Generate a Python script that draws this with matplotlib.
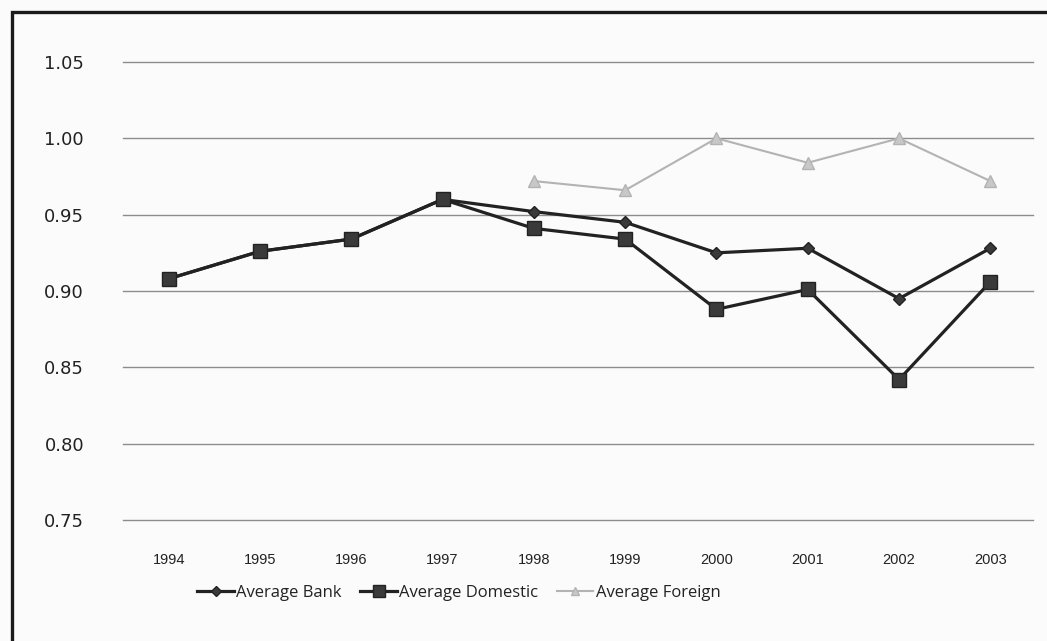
import matplotlib
matplotlib.use("Agg")
import matplotlib.pyplot as plt
from matplotlib.patches import Rectangle
from matplotlib.lines import Line2D
import numpy as np

years = ["1994", "1995", "1996", "1997", "1998", "1999", "2000", "2001", "2002", "2003"]
average_bank = [0.908, 0.926, 0.934, 0.960, 0.952, 0.945, 0.925, 0.928, 0.895, 0.928]
average_domestic = [0.908, 0.926, 0.934, 0.960, 0.941, 0.934, 0.888, 0.901, 0.842, 0.906]
foreign_years = ["1998", "1999", "2000", "2001", "2002", "2003"]
average_foreign = [0.972, 0.966, 1.000, 0.984, 1.000, 0.972]
y_ticks = [0.75, 0.80, 0.85, 0.90, 0.95, 1.00, 1.05]

W, H = 1047, 641
fig = plt.figure(figsize=(W / 100, H / 100), dpi=100)
fig.patch.set_facecolor("#fbfbfb")

# outer chart frame
fig.add_artist(Rectangle((12 / W, -0.05), 1.1, 1 - 12 / H + 0.05,
                         transform=fig.transFigure, fill=False,
                         edgecolor="#1a1a1a", linewidth=2.4))

ax = fig.add_axes([123 / W, (H - 520) / H, 913 / W, 458 / H])
ax.set_facecolor("none")

x = np.arange(len(years))
xf = np.array([years.index(y) for y in foreign_years])

dark = "#222222"
light = "#b3b3b3"
ax.plot(x, average_bank, color=dark, lw=2.3, marker="D", ms=6,
        mfc="#3a3a3a", mec=dark, zorder=4, label="Average Bank")
ax.plot(x, average_domestic, color=dark, lw=2.3, marker="s", ms=10,
        mfc="#3a3a3a", mec=dark, zorder=5, label="Average Domestic")
ax.plot(xf, average_foreign, color=light, lw=1.5, marker="^", ms=8,
        mfc="#c8c8c8", mec=light, zorder=3, label="Average Foreign")

ax.set_xlim(-0.5, len(years) - 0.5)
ax.set_ylim(0.75, 1.05)
ax.set_yticks(y_ticks)
ax.set_yticklabels([f"{v:.2f}" for v in y_ticks], fontsize=13,
                   family="DejaVu Sans", color="#222222")
ax.set_xticks(x)
ax.set_xticklabels(years, fontsize=10.5, family="Liberation Sans",
                   color="#222222")
ax.tick_params(axis="y", length=0, pad=28)
ax.tick_params(axis="x", length=0, pad=24)
for s in ax.spines.values():
    s.set_visible(False)
for v in y_ticks:
    ax.axhline(v, xmin=0, xmax=(1033 - 123) / 913, color="#8c8c8c",
               lw=1.0, zorder=1, clip_on=False)

handles = [
    Line2D([], [], color=dark, lw=2.3, marker="D", ms=5, mfc="#3a3a3a", mec=dark),
    Line2D([], [], color=dark, lw=2.3, marker="s", ms=9, mfc="#3a3a3a", mec=dark),
    Line2D([], [], color=light, lw=1.5, marker="^", ms=6, mfc="#c8c8c8", mec=light),
]
fig.legend(handles, ["Average Bank", "Average Domestic", "Average Foreign"],
           loc="center", bbox_to_anchor=(459 / W, 1 - 593 / H), ncol=3,
           frameon=False, prop={"family": "Open Sans", "size": 12},
           handlelength=2.2, handletextpad=0.15, columnspacing=1.1,
           labelcolor="#222222")

fig.savefig("out.png", dpi=100, facecolor=fig.get_facecolor())
